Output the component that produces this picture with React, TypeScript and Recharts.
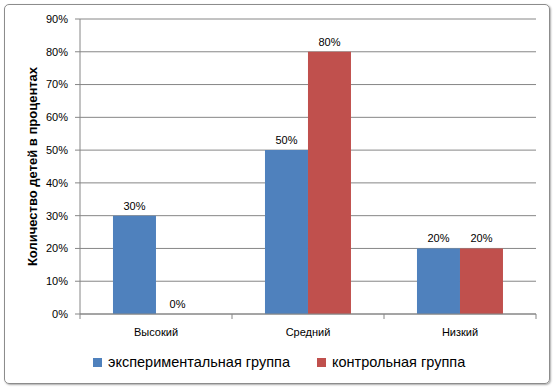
import React from 'react';
import { BarChart, Bar, XAxis, YAxis, CartesianGrid, Label } from 'recharts';

const categories = ['Высокий', 'Средний', 'Низкий'];
const experimental = [30, 50, 20];
const control = [0, 80, 20];
const yTicks = [0, 10, 20, 30, 40, 50, 60, 70, 80, 90];
const seriesNames = ['экспериментальная группа', 'контрольная группа'];
const seriesColors = ['#4F81BD', '#C0504D'];
const yTitle = 'Количество детей в процентах';

const data = categories.map((c, i) => ({ name: c, exp: experimental[i], ctrl: control[i] }));

const FONT = '"Liberation Sans", Arial, sans-serif';
const AXIS = '#868686';

const XTick = (props: any) => {
  const { x, y, payload, index } = props;
  const half = 76;
  return (
    <g>
      {index === 0 && <line x1={x - half} y1={y - 8} x2={x - half} y2={y - 3} stroke={AXIS} />}
      <line x1={x + half} y1={y - 8} x2={x + half} y2={y - 3} stroke={AXIS} />
      <text x={x} y={y + 14} textAnchor="middle" fontSize={11} fill="#000" fontFamily={FONT}>
        {payload.value}
      </text>
    </g>
  );
};

const renderValueLabel = (props: any) => {
  const { x, y, width, value } = props;
  if (value === undefined || value === null) return null;
  return (
    <text x={x + width / 2} y={y - 6} textAnchor="middle" fontSize={11} fill="#000" fontFamily={FONT}>
      {`${value}%`}
    </text>
  );
};

export default function App() {
  return (
    <div style={{ position: 'absolute', left: 0, top: 0, width: 556, height: 389, background: '#fff' }}>
      <div
        style={{
          position: 'absolute',
          left: 4,
          top: 4,
          width: 544,
          height: 378,
          border: '1px solid #8c8c8c',
          borderRadius: 5,
          boxShadow: '1px 1px 2px #aaa',
        }}
      />
      <div style={{ position: 'absolute', left: 0, top: 0 }}>
        <BarChart
          width={556}
          height={389}
          data={data}
          margin={{ top: 19, right: 20, bottom: 45, left: 0 }}
          barCategoryGap="21.7%"
          barGap={0}
        >
          <CartesianGrid vertical={false} stroke={AXIS} strokeDasharray="" />
          <XAxis
            dataKey="name"
            height={30}
            stroke={AXIS}
            tickLine={false}
            tick={<XTick />}
            interval={0}
          />
          <YAxis
            width={80}
            domain={[0, 90]}
            ticks={yTicks}
            interval={0}
            tickFormatter={(v: number) => `${v}%`}
            stroke={AXIS}
            tickSize={5}
            tickMargin={7}
            tick={{ fill: '#000', fontSize: 11, fontFamily: FONT }}
          >
            <Label
              value={yTitle}
              angle={-90}
              position="insideLeft"
              offset={32}
              style={{ textAnchor: 'middle', fontWeight: 'bold', fontSize: 13, fill: '#000', fontFamily: FONT }}
            />
          </YAxis>
          <Bar dataKey="exp" name={seriesNames[0]} fill={seriesColors[0]} isAnimationActive={false} minPointSize={0.01} label={renderValueLabel} />
          <Bar dataKey="ctrl" name={seriesNames[1]} fill={seriesColors[1]} isAnimationActive={false} minPointSize={0.01} label={renderValueLabel} />
        </BarChart>
      </div>
      <div
        style={{
          position: 'absolute',
          left: 93,
          top: 354,
          display: 'flex',
          fontFamily: FONT,
          fontSize: 14.5,
          color: '#000',
          whiteSpace: 'nowrap',
        }}
      >
        {seriesNames.map((n, i) => (
          <div key={i} style={{ display: 'flex', alignItems: 'center', marginRight: 27 }}>
            <span style={{ display: 'inline-block', width: 9, height: 9, background: seriesColors[i], marginRight: 6 }} />
            <span>{n}</span>
          </div>
        ))}
      </div>
    </div>
  );
}
